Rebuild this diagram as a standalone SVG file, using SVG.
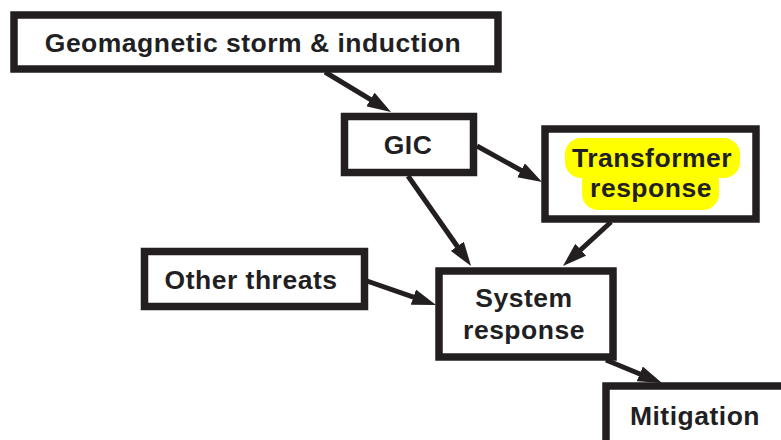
<svg xmlns="http://www.w3.org/2000/svg" width="781" height="440" viewBox="0 0 781 440">
  <style>
    .box { fill: #ffffff; stroke: #231f20; stroke-width: 7.5; }
    .lbl { font-family: "Liberation Sans", Arial, Helvetica, sans-serif; font-weight: bold; font-size: 26.5px; letter-spacing: 0.5px; fill: #1f1f24; text-anchor: middle; }
    .edge { stroke: #231f20; stroke-width: 5; fill: none; marker-end: url(#head); }
    .hl { fill: #ffff00; }
  </style>
  <defs>
    <marker id="head" viewBox="0 0 24 16" refX="10" refY="8" markerWidth="24" markerHeight="16" markerUnits="userSpaceOnUse" orient="auto">
      <path d="M0,0 L24,8 L0,16 Z" fill="#231f20"/>
    </marker>
  </defs>

  <rect width="781" height="440" fill="#ffffff"/>

  <!-- connectors -->
  <g id="edges">
    <line class="edge" x1="325" y1="72" x2="379" y2="104.7"/>
    <line class="edge" x1="477" y1="146" x2="529.8" y2="175.2"/>
    <line class="edge" x1="408" y1="176" x2="463" y2="254.5"/>
    <line class="edge" x1="611" y1="222" x2="573.3" y2="256.5"/>
    <line class="edge" x1="367" y1="281" x2="422.8" y2="300.4"/>
    <line class="edge" x1="606" y1="360" x2="649" y2="377.7"/>
  </g>

  <g id="storm">
    <rect class="box" x="14" y="15" width="484" height="54"/>
    <text class="lbl" x="253" y="52">Geomagnetic storm &amp; induction</text>
  </g>

  <g id="gic">
    <rect class="box" x="344.5" y="116.5" width="129" height="56"/>
    <text class="lbl" x="408" y="154">GIC</text>
  </g>

  <g id="transformer">
    <rect class="box" x="545" y="129" width="211" height="90"/>
    <rect class="hl" x="565" y="138" width="175" height="40" rx="16"/>
    <rect class="hl" x="582" y="166" width="137" height="44" rx="16"/>
    <text class="lbl" x="652" y="167">Transformer</text>
    <text class="lbl" x="651" y="197">response</text>
  </g>

  <g id="threats">
    <rect class="box" x="144.5" y="251.5" width="220" height="55"/>
    <text class="lbl" x="251" y="289">Other threats</text>
  </g>

  <g id="system">
    <rect class="box" x="439" y="271" width="174" height="86"/>
    <text class="lbl" x="524" y="307">System</text>
    <text class="lbl" x="524" y="339">response</text>
  </g>

  <g id="mitigation">
    <rect class="box" x="606" y="386" width="200" height="80"/>
    <text class="lbl" x="695" y="425">Mitigation</text>
  </g>
</svg>
